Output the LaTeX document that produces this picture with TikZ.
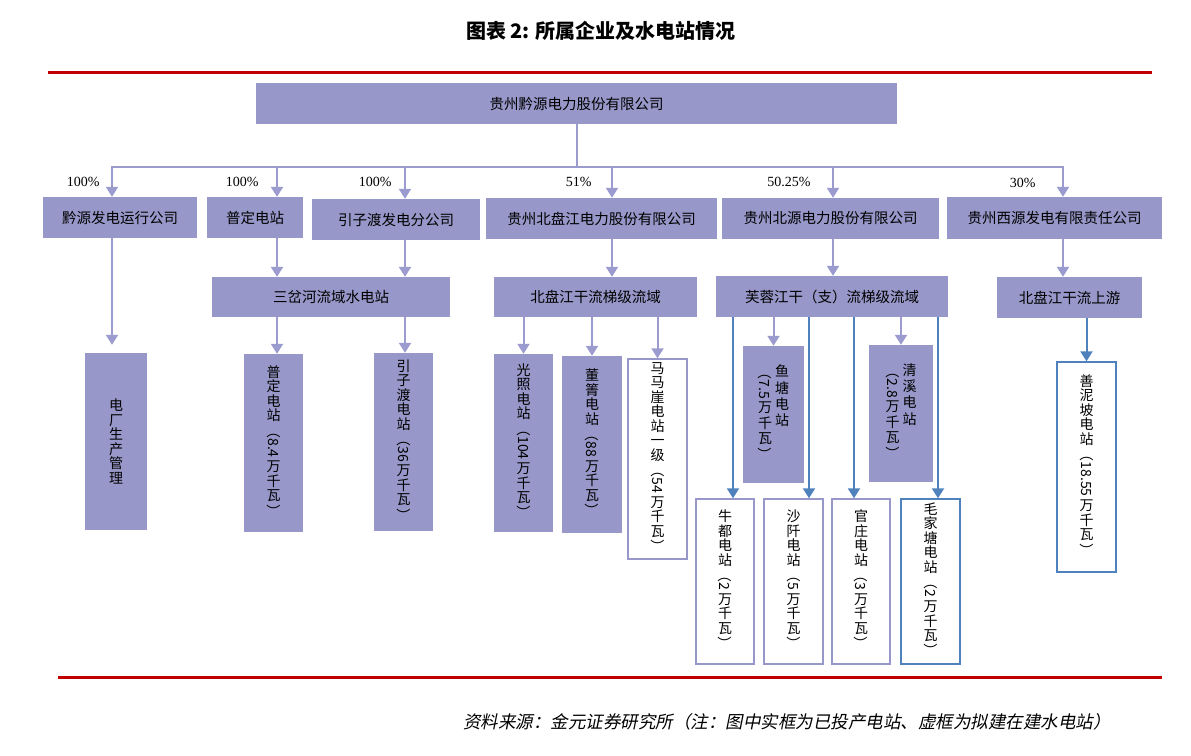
\documentclass[tikz,border=0pt]{standalone}
\usepackage{fontspec}
\usepackage{graphicx}
\setmainfont{Noto Sans CJK SC}
\newfontfamily\pctfont{Liberation Serif}
\newfontfamily\notefont[FakeSlant = 0.2]{Noto Sans CJK SC}
\usetikzlibrary{arrows.meta}
\definecolor{boxpurple}{RGB}{151,151,201}
\definecolor{linepurple}{RGB}{155,155,208}
\definecolor{lineblue}{RGB}{79,129,189}
\definecolor{rulered}{RGB}{192,0,0}
% digits and brackets lie on their side in the vertical labels
\newcommand{\vrot}[1]{\raisebox{0.8em}{\rotatebox{-90}{#1\,}}}

\begin{document}
\begin{tikzpicture} [x = 1pt, y = -1pt,
	sz/.style 2 args = {minimum width = #1pt, minimum height = #2pt},
	pbox/.style = {fill = boxpurple, inner sep = 0pt, align = center, font = \fontsize{14.5}{15}\selectfont},
	vbox/.style = {pbox, font = \fontsize{14}{14.5}\selectfont},
	wbox/.style = {vbox, fill = white, draw = boxpurple, line width = 1.4pt},
	bbox/.style = {wbox, draw = lineblue},
	parr/.style = {draw = linepurple, line width = 2pt, -{Triangle[width = 12pt, length = 10pt]}},
	barr/.style = {parr, draw = lineblue},
	pct/.style = {anchor = east, font = \pctfont\fontsize{14}{14}\selectfont},
	rule/.style = {draw = rulered, line width = 3pt}]
	\useasboundingbox (0,0) rectangle (1191,755);
	\node [font = \bfseries\fontsize{20}{20}\selectfont] (title) at (601,31) {图表 2: 所属企业及水电站情况};
	\draw [rule] (48,72) -- (1152,72);
	\draw [rule] (58,677) -- (1162,677);
	\node [font = \notefont\fontsize{17.5}{17.5}\selectfont] (src) at (787,722) {资料来源：金元证券研究所（注：图中实框为已投产电站、虚框为拟建在建水电站）};

	% parent and first level
	\node [pbox, sz = {641}{41}] (top) at (576.5,103.5) {贵州黔源电力股份有限公司};
	\node [pbox, sz = {154}{41}] (yx) at (120,217.5) {黔源发电运行公司};
	\node [pbox, sz = {96}{41}] (pd) at (255,217.5) {普定电站};
	\node [pbox, sz = {168}{41}] (yzd) at (396,219.5) {引子渡发电分公司};
	\node [pbox, sz = {231}{41}] (bpj) at (601.5,218.5) {贵州北盘江电力股份有限公司};
	\node [pbox, sz = {217}{41}] (by) at (830.5,218.5) {贵州北源电力股份有限公司};
	\node [pbox, sz = {215}{42}] (xy) at (1054.5,218) {贵州西源发电有限责任公司};
	\node [pct] (p1) at (103,182) {100\%};
	\node [pct] (p2) at (262,182) {100\%};
	\node [pct] (p3) at (395,182) {100\%};
	\node [pct] (p4) at (595,182) {51\%};
	\node [pct] (p5) at (814,182) {50.25\%};
	\node [pct] (p6) at (1039,183) {30\%};

	% river basins
	\node [pbox, sz = {238}{40}] (sch) at (331,297) {三岔河流域水电站};
	\node [pbox, sz = {203}{40}] (bpjl) at (595.5,297) {北盘江干流梯级流域};
	\node [pbox, sz = {232}{41}] (frj) at (832,296.5) {芙蓉江干（支）流梯级流域};
	\node [pbox, sz = {145}{41}] (bpjs) at (1069.5,297.5) {北盘江干流上游};

	% stations
	\node [vbox, sz = {62}{177}] (dc) at (116,441.5) {电\\厂\\生\\产\\管\\理};
	\node [vbox, sz = {59}{178}] (pdz) at (273.5,443) {普\\定\\电\\站\\\vrot{（8.4}\\万\\千\\瓦\\\vrot{）}};
	\node [vbox, sz = {59}{178}] (yzdz) at (403.5,442) {引\\子\\渡\\电\\站\\\vrot{（36}\\万\\千\\瓦\\\vrot{）}};
	\node [vbox, sz = {59}{178}] (gz) at (523.5,443) {光\\照\\电\\站\\\vrot{（104}\\万\\千\\瓦\\\vrot{）}};
	\node [vbox, sz = {60}{177}] (dq) at (592,444.5) {董\\箐\\电\\站\\\vrot{（88}\\万\\千\\瓦\\\vrot{）}};
	\node [wbox, sz = {59}{200}] (mmy) at (657.5,459) {马\\马\\崖\\电\\站\\一\\级\\\vrot{（54}\\万\\千\\瓦\\\vrot{）}};
	\node [vbox, sz = {61}{137}] (yt) at (773.5,414.5) {\begin{tabular}[t]{@{}c@{}}\vrot{（7.5}\\万\\千\\瓦\\\vrot{）}\end{tabular}\hspace{3pt}\begin{tabular}[t]{@{}c@{}}鱼\\塘\\电\\站\end{tabular}};
	\node [vbox, sz = {64}{137}] (qx) at (901,413.5) {\begin{tabular}[t]{@{}c@{}}\vrot{（2.8}\\万\\千\\瓦\\\vrot{）}\end{tabular}\hspace{3pt}\begin{tabular}[t]{@{}c@{}}清\\溪\\电\\站\end{tabular}};
	\node [wbox, sz = {58}{165}] (nd) at (725,581.5) {牛\\都\\电\\站\\\vrot{（2}\\万\\千\\瓦\\\vrot{）}};
	\node [wbox, sz = {59}{165}] (sq) at (793.5,581.5) {沙\\阡\\电\\站\\\vrot{（5}\\万\\千\\瓦\\\vrot{）}};
	\node [wbox, sz = {58}{165}] (gzh) at (861,581.5) {官\\庄\\电\\站\\\vrot{（3}\\万\\千\\瓦\\\vrot{）}};
	\node [bbox, sz = {59}{165}] (mjt) at (930.5,581.5) {毛\\家\\塘\\电\\站\\\vrot{（2}\\万\\千\\瓦\\\vrot{）}};
	\node [bbox, sz = {59}{210}] (snp) at (1086.5,467) {善\\泥\\坡\\电\\站\\\vrot{（18.55}\\万\\千\\瓦\\\vrot{）}};

	% where the arrows come in
	\coordinate (bus) at (576.5,167);
	\coordinate (yxin) at ([xshift = -8pt]yx.north);
	\coordinate (pdin) at ([xshift = 22pt]pd.north);
	\coordinate (yzdin) at ([xshift = 9pt]yzd.north);
	\coordinate (bpjin) at ([xshift = 10.5pt]bpj.north);
	\coordinate (byin) at ([xshift = 2.5pt]by.north);
	\coordinate (xyin) at ([xshift = 8.5pt]xy.north);
	\coordinate (ndin) at ([xshift = 8pt]nd.north);
	\coordinate (sqin) at ([xshift = 15.5pt]sq.north);
	\coordinate (gzhin) at ([xshift = -7pt]gzh.north);
	\coordinate (mjtin) at ([xshift = 7.5pt]mjt.north);

	\draw [draw = linepurple, line width = 2pt] (top.south) -- (bus);
	\draw [parr] (bus) -| (yxin);
	\draw [parr] (bus) -| (pdin);
	\draw [parr] (bus) -| (yzdin);
	\draw [parr] (bus) -| (bpjin);
	\draw [parr] (bus) -| (byin);
	\draw [parr] (bus) -| (xyin);

	\draw [parr, shorten >= 8pt] (yx.south -| yxin) -- (dc.north -| yxin);
	\draw [parr] (pd.south -| pdin) -- (sch.north -| pdin);
	\draw [parr] (yzd.south -| yzdin) -- (sch.north -| yzdin);
	\draw [parr] (sch.south -| pdin) -- (pdz.north -| pdin);
	\draw [parr] (sch.south -| yzdin) -- (yzdz.north -| yzdin);
	\draw [parr] (bpj.south -| bpjin) -- (bpjl.north -| bpjin);
	\draw [parr] (bpjl.south -| gz.north) -- (gz.north);
	\draw [parr] (bpjl.south -| dq.north) -- (dq.north);
	\draw [parr] (bpjl.south -| mmy.north) -- (mmy.north);
	\draw [parr] (by.south -| byin) -- (frj.north -| byin);
	\draw [parr] (frj.south -| yt.north) -- (yt.north);
	\draw [parr] (frj.south -| qx.north) -- (qx.north);
	\draw [barr] (frj.south -| ndin) -- (ndin);
	\draw [barr] (frj.south -| sqin) -- (sqin);
	\draw [barr] (frj.south -| gzhin) -- (gzhin);
	\draw [barr] (frj.south -| mjtin) -- (mjtin);
	\draw [parr] (xy.south -| xyin) -- (bpjs.north -| xyin);
	\draw [barr] (bpjs.south -| snp.north) -- (snp.north);
\end{tikzpicture}
\end{document}
